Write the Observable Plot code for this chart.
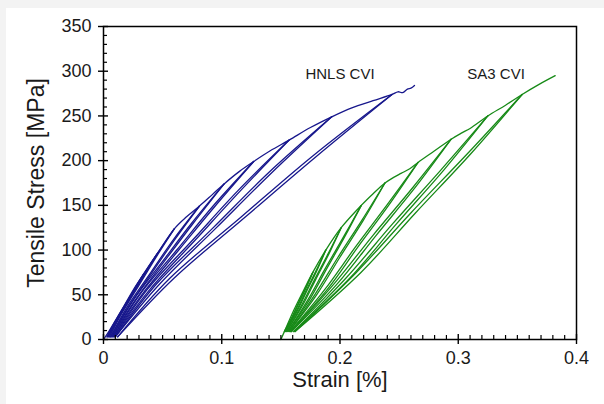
<!DOCTYPE html>
<html><head><meta charset="utf-8">
<script src="https://cdn.jsdelivr.net/npm/d3@7"></script>
<script src="https://cdn.jsdelivr.net/npm/@observablehq/plot@0.6"></script>
<style>
html,body{margin:0;padding:0;background:#f3f3f3;overflow:hidden;}
#panel{position:absolute;left:6px;top:8px;width:598px;height:396px;background:#fff;}
</style></head><body><div id="panel"></div>
<script>
// ---- data ----
const xTicks = [0, 0.1, 0.2, 0.3, 0.4];
const yTicks = [0, 50, 100, 150, 200, 250, 300, 350];
const xTitle = "Strain [%]";
const yTitle = "Tensile Stress [MPa]";
const seriesNames = ["HNLS CVI", "SA3 CVI"];
const labelStrain = [0.2, 0.332];
const labelStress = [297, 297];

// HNLS CVI: loading envelope [strain %, stress MPa]
const hnlsEnvelope = [[0,0],[0.005,10],[0.015,32],[0.025,53],[0.034,73],[0.046,97],[0.060,124],[0.070,137],[0.081,149],[0.092,162],[0.102,174],[0.115,188],[0.127,199],[0.141,211],[0.157,223],[0.175,237],[0.193,249],[0.210,259],[0.228,267],[0.244,274],[0.249,277],[0.253,276],[0.257,280],[0.260,281],[0.263,284]];
const hnlsUnload = [
  [[0.034,73],[0.025,55],[0.017,36.5],[0.0089,18],[0.003,3]],
  [[0.046,97],[0.0338,73],[0.0229,48.5],[0.012,24],[0.004,3]],
  [[0.060,124],[0.044,93],[0.0298,62],[0.0155,31],[0.005,3]],
  [[0.081,149],[0.0593,112],[0.0398,74.5],[0.0203,37],[0.006,3]],
  [[0.102,174],[0.0745,130],[0.0498,87],[0.025,43.5],[0.007,3]],
  [[0.127,199],[0.0925,149],[0.0616,99.5],[0.0306,50],[0.008,3]],
  [[0.157,223],[0.1141,167],[0.0756,111.5],[0.0371,56],[0.009,3]],
  [[0.193,249],[0.140,187],[0.0924,124.5],[0.0448,62],[0.010,3]],
  [[0.244,274],[0.1767,205],[0.1164,137],[0.0561,68.5],[0.012,3]]
];
const hnlsReload = [
  [[0.003,3],[0.0094,18],[0.0174,36.5],[0.0255,55],[0.034,73]],
  [[0.004,3],[0.0126,24],[0.0235,48.5],[0.0345,73],[0.046,97]],
  [[0.005,3],[0.0163,31],[0.0306,62],[0.0449,93],[0.060,124]],
  [[0.006,3],[0.0214,37],[0.0409,74.5],[0.0604,112],[0.081,149]],
  [[0.007,3],[0.0265,43.5],[0.0512,87],[0.0759,130],[0.102,174]],
  [[0.008,3],[0.0324,50],[0.0633,99.5],[0.0943,149],[0.127,199]],
  [[0.009,3],[0.0393,56],[0.0778,111.5],[0.1163,167],[0.157,223]],
  [[0.010,3],[0.0475,62],[0.0951,124.5],[0.1427,187],[0.193,249]],
  [[0.012,3],[0.0596,68.5],[0.1199,137],[0.1802,205],[0.244,274]]
];

// SA3 CVI
const sa3Envelope = [[0.150,0],[0.153,9],[0.161,33],[0.170,57],[0.177,75],[0.188,100],[0.201,125],[0.218,150],[0.228,163],[0.238,175],[0.245,181],[0.252,186],[0.259,191],[0.266,198],[0.280,211],[0.294,224],[0.303,231],[0.310,236],[0.325,250],[0.340,262],[0.354,274],[0.368,285],[0.382,295]];
const sa3Unload = [
  [[0.177,75],[0.1712,58.5],[0.1652,42],[0.1595,25.5],[0.153,9]],
  [[0.188,100],[0.1798,77],[0.1713,54.5],[0.1632,32],[0.154,9]],
  [[0.201,125],[0.190,96],[0.1785,67],[0.1674,38],[0.155,9]],
  [[0.218,150],[0.2031,115],[0.1876,79.5],[0.1727,44],[0.156,9]],
  [[0.238,175],[0.2186,133.5],[0.1983,92],[0.1789,50.5],[0.157,9]],
  [[0.266,198],[0.2401,151],[0.2131,103.5],[0.1872,56],[0.158,9]],
  [[0.294,224],[0.2616,170],[0.2279,116.5],[0.1955,63],[0.159,9]],
  [[0.325,250],[0.2856,190],[0.2446,129.5],[0.2053,69],[0.161,9]],
  [[0.354,274],[0.3079,208],[0.2599,141.5],[0.2138,75],[0.162,9]]
];
const sa3Reload = [
  [[0.153,9],[0.160,25.5],[0.1657,42],[0.1716,58.5],[0.177,75]],
  [[0.154,9],[0.1639,32],[0.172,54.5],[0.1804,77],[0.188,100]],
  [[0.155,9],[0.1683,38],[0.1794,67],[0.1907,96],[0.201,125]],
  [[0.156,9],[0.174,44],[0.1889,79.5],[0.204,115],[0.218,150]],
  [[0.157,9],[0.1805,50.5],[0.1999,92],[0.2198,133.5],[0.238,175]],
  [[0.158,9],[0.1893,56],[0.2152,103.5],[0.2417,151],[0.266,198]],
  [[0.159,9],[0.1982,63],[0.2306,116.5],[0.2636,170],[0.294,224]],
  [[0.161,9],[0.2086,69],[0.2479,129.5],[0.2881,190],[0.325,250]],
  [[0.162,9],[0.2177,75],[0.2638,141.5],[0.3108,208],[0.354,274]]
];

// ---- build table ----
const rows = [];
function addPaths(series, kind, paths) {
  paths.forEach((p, i) => p.forEach(([strain, stress]) => rows.push({series, path: series + "-" + kind + i, strain, stress})));
}
addPaths(seriesNames[0], "env", [hnlsEnvelope]);
addPaths(seriesNames[0], "un", hnlsUnload);
addPaths(seriesNames[0], "re", hnlsReload);
addPaths(seriesNames[1], "env", [sa3Envelope]);
addPaths(seriesNames[1], "un", sa3Unload);
addPaths(seriesNames[1], "re", sa3Reload);
const labels = seriesNames.map((name, i) => ({name, strain: labelStrain[i], stress: labelStress[i]}));

// minor ticks between majors
const xMinor = [];
for (let i = 0; i < xTicks.length - 1; i++) for (let k = 1; k < 10; k++) xMinor.push(xTicks[i] + (xTicks[i+1] - xTicks[i]) * k / 10);
const yMinor = [];
for (let i = 0; i < yTicks.length - 1; i++) for (let k = 1; k < 5; k++) yMinor.push(yTicks[i] + (yTicks[i+1] - yTicks[i]) * k / 5);

const W = 598, H = 396, ML = 97, MR = 28, MT = 18, MB = 65;
const plotW = W - ML - MR, plotH = H - MT - MB;

const chart = Plot.plot({
  width: W, height: H,
  marginLeft: ML, marginRight: MR, marginTop: MT, marginBottom: MB,
  style: {fontFamily: "'Liberation Sans', Arial, sans-serif", background: "#fff", color: "#1a1a1a", overflow: "visible"},
  x: {domain: [0, 0.4], label: null},
  y: {domain: [0, 350], label: null},
  color: {domain: seriesNames, range: ["#17178c", "#178a17"]},
  marks: [
    Plot.line(rows, {x: "strain", y: "stress", z: "path", stroke: "series", strokeWidth: 1.3, curve: "catmull-rom"}),
    Plot.frame({stroke: "#000", strokeWidth: 1.5}),
    Plot.tickX(xMinor, {x: d => d, insetTop: plotH - 4, stroke: "#000", strokeWidth: 1.2}),
    Plot.tickX(xTicks, {x: d => d, insetTop: plotH - 5, insetBottom: -5, stroke: "#000", strokeWidth: 1.4}),
    Plot.tickY(yMinor, {y: d => d, insetRight: plotW - 4, stroke: "#000", strokeWidth: 1.2}),
    Plot.tickY(yTicks, {y: d => d, insetRight: plotW - 5, insetLeft: -5, stroke: "#000", strokeWidth: 1.4}),
    Plot.axisX({ticks: xTicks, tickSize: 0, tickPadding: 12, fontSize: 18, tickFormat: d3.format("~g"), label: null}),
    Plot.axisY({ticks: yTicks, tickSize: 0, tickPadding: 12, fontSize: 18, tickFormat: d3.format("~g"), label: null}),
    Plot.text([xTitle], {text: d => d, frameAnchor: "bottom", dy: 47, fontSize: 22}),
    Plot.text([yTitle], {text: d => d, frameAnchor: "left", textAnchor: "middle", dx: -67, rotate: -90, fontSize: 23}),
    Plot.text(labels, {x: "strain", y: "stress", text: "name", fontSize: 15})
  ]
});
document.getElementById("panel").appendChild(chart);
</script>
</body></html>
